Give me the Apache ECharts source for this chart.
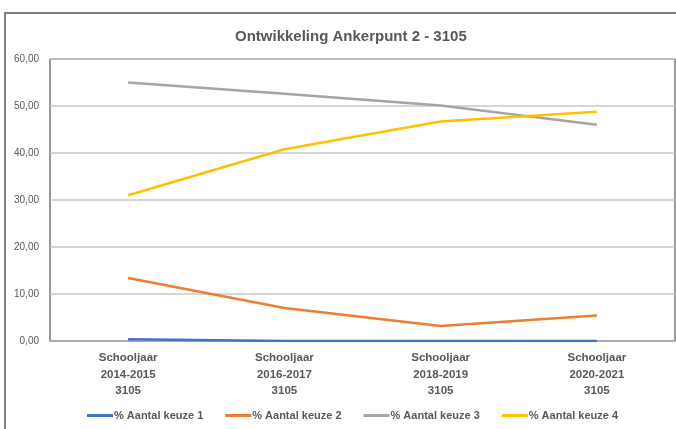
<!DOCTYPE html>
<html>
<head>
<meta charset="utf-8">
<script src="https://cdn.jsdelivr.net/npm/echarts@6/dist/echarts.min.js"></script>
<style>
    html, body { margin: 0; padding: 0; background: #fff; }
    #myChart { width: 676px; height: 429px; }
</style>
</head>
<body>
<div id="myChart"></div>
<script>
    var categories = [
        'Schooljaar\n2014-2015\n3105',
        'Schooljaar\n2016-2017\n3105',
        'Schooljaar\n2018-2019\n3105',
        'Schooljaar\n2020-2021\n3105'
    ];
    var keuze1 = [0.35, 0, 0, 0];
    var keuze2 = [13.4, 7.0, 3.2, 5.4];
    var keuze3 = [55.0, 52.6, 50.1, 46.0];
    var keuze4 = [31.0, 40.8, 46.7, 48.8];
    var seriesNames = ['% Aantal keuze 1', '% Aantal keuze 2', '% Aantal keuze 3', '% Aantal keuze 4'];
    var colors = ['#4472C4', '#ED7D31', '#A5A5A5', '#FFC000'];

    var font = '"Liberation Sans", "DejaVu Sans", sans-serif';
    var textColor = '#595959';

    function lineSeries(name, data, color) {
        return {
            name: name,
            type: 'line',
            data: data,
            symbol: 'none',
            lineStyle: { width: 2.5, color: color },
            itemStyle: { color: color }
        };
    }

    var myChart = echarts.init(document.getElementById('myChart'));
    var option = {
        animation: false,
        color: colors,
        title: {
            text: 'Ontwikkeling Ankerpunt 2 - 3105',
            left: 230,
            top: 24,
            textStyle: { fontFamily: font, fontSize: 15, fontWeight: 'bold', color: textColor }
        },
        graphic: [{
            type: 'rect',
            shape: { x: 5, y: 13, width: 720, height: 460 },
            style: { fill: 'none', stroke: '#7f7f7f', lineWidth: 2 },
            z: 100
        }],
        legend: {
            data: seriesNames,
            bottom: 3,
            left: 82,
            itemWidth: 26,
            itemHeight: 3,
            itemGap: 22,
            icon: 'rect',
            textStyle: { fontFamily: font, fontSize: 11, fontWeight: 'bold', color: textColor, padding: [0, 0, 0, -4] }
        },
        grid: {
            left: 50, right: 1, top: 59, bottom: 88,
            show: true,
            borderColor: '#333333',
            borderWidth: 1
        },
        xAxis: {
            type: 'category',
            data: categories,
            boundaryGap: true,
            axisTick: { show: false },
            axisLine: { lineStyle: { color: '#a6a6a6', width: 1.5 } },
            axisLabel: {
                fontFamily: font, fontSize: 11.5, fontWeight: 'bold', color: textColor,
                lineHeight: 16.5, margin: 9, interval: 0
            }
        },
        yAxis: {
            type: 'value',
            min: 0, max: 60, interval: 10,
            axisLine: { show: false },
            axisTick: { show: false },
            splitLine: { lineStyle: { color: '#c8c8c8', width: 1.5 } },
            axisLabel: {
                fontFamily: font, fontSize: 10, color: textColor, margin: 11,
                formatter: function (v) { return v.toFixed(2).replace('.', ','); }
            }
        },
        series: [
            lineSeries(seriesNames[0], keuze1, colors[0]),
            lineSeries(seriesNames[1], keuze2, colors[1]),
            lineSeries(seriesNames[2], keuze3, colors[2]),
            lineSeries(seriesNames[3], keuze4, colors[3])
        ]
    };
    myChart.setOption(option);
</script>
</body>
</html>
